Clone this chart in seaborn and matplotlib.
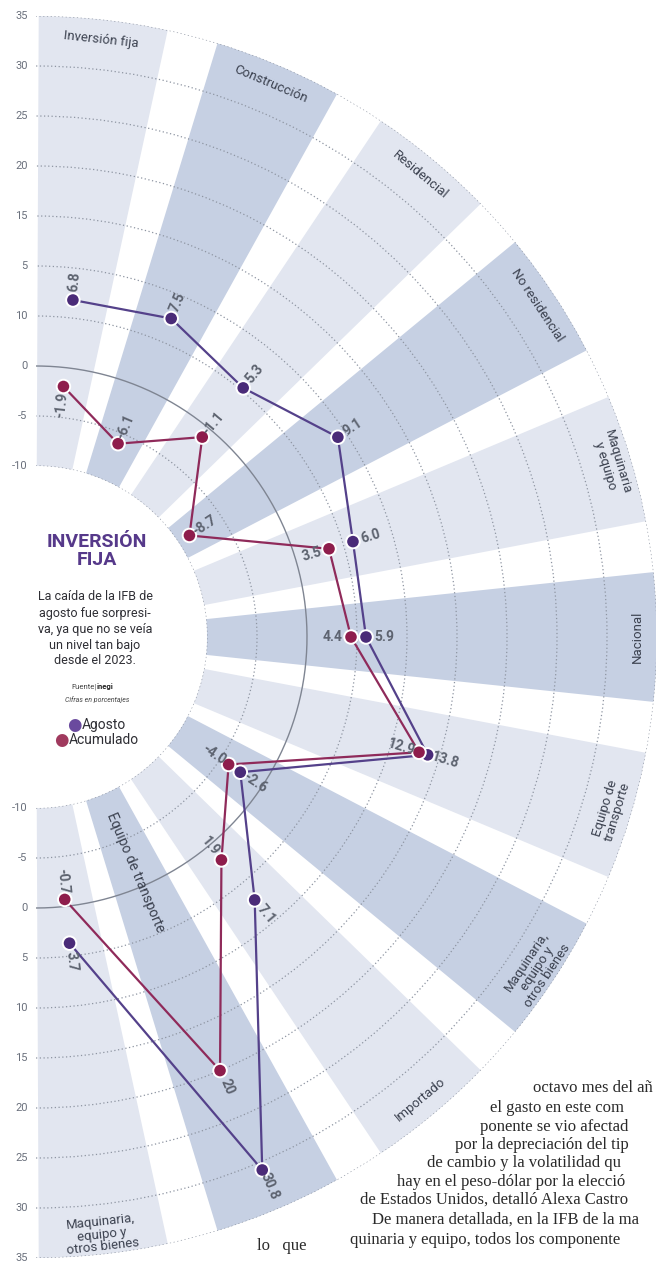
import numpy as np
import pandas as pd
import matplotlib
matplotlib.use("Agg")
import matplotlib.pyplot as plt
import seaborn as sns

# ---------------------------------------------------------------- datos
categorias = [
    "Inversión fija", "Construcción", "Residencial", "No residencial",
    "Maquinaria\ny equipo", "Nacional", "Equipo de\ntransporte",
    "Maquinaria,\nequipo y\notros bienes", "Importado",
    "Equipo de transporte", "Maquinaria,\nequipo y\notros bienes",
]
agosto = [6.8, 7.5, 5.3, 9.1, 6.0, 5.9, 13.8, -2.6, 7.1, 30.8, 3.7]
acumulado = [-1.9, -6.1, -1.1, -8.7, 3.5, 4.4, 12.9, -4.0, 1.9, 20.0, -0.7]
etiquetas_agosto = ["6.8", "7.5", "5.3", "9.1", "6.0", "5.9", "13.8",
                    "-2.6", "7.1", "30.8", "3.7"]
etiquetas_acumulado = ["-1.9", "-6.1", "-1.1", "-8.7", "3.5", "4.4", "12.9",
                       "-4.0", "1.9", "20", "-0.7"]
escala = [-10, -5, 0, 5, 10, 15, 20, 25, 30, 35]
escala_sup = ["-10", "-5", "0", "10", "5", "15", "20", "25", "30", "35"]
escala_inf = ["-10", "-5", "0", "5", "10", "15", "20", "25", "30", "35"]
nota = [
    "octavo mes del añ", "el gasto en este com", "ponente se vio afectad",
    "por la depreciación del tip", "de cambio y la volatilidad qu",
    "hay en el peso-dólar por la elecció",
    "de Estados Unidos, detalló Alexa Castro",
    "De manera detallada, en la IFB de la ma",
    "quinaria y equipo, todos los componente",
]

# ---------------------------------------------------------------- estilo
sns.set_style("white")
plt.rcParams["font.family"] = ["Roboto", "DejaVu Sans"]

C_AGO = "#4a2b78"
C_ACU = "#8e1d4c"
C_LINE_AGO = "#54418a"
C_LINE_ACU = "#8f2a5a"
C_LIGHT = "#e2e6f0"
C_DARK = "#c6d0e3"
GRIS = "#5d6370"

W, H = 656, 1265
CX, CY, R = 36, 637, 621          # centro del semicírculo y radio en px
paso, media = 16.75, 6.0          # separación angular y semiancho de banda

fig = plt.figure(figsize=(W / 100, H / 100), dpi=100)
ax = fig.add_axes([(CX - R / 2) / W, (H - CY - R) / H, 2 * R / W, 2 * R / H],
                  projection="polar")

n = len(categorias)
theta = np.deg2rad(90 - media - 0.25 - paso * np.arange(n))
colores = [C_LIGHT if i % 2 == 0 else C_DARK for i in range(n)]

ax.bar(theta, escala[-1] - escala[0], width=np.deg2rad(2 * media),
       bottom=escala[0], color=colores, edgecolor="none", zorder=1)

# ---------------------------------------------------------------- series
df = pd.DataFrame({
    "theta": np.concatenate([theta, theta]),
    "valor": agosto + acumulado,
    "serie": ["Agosto"] * n + ["Acumulado"] * n,
})
sns.lineplot(data=df, x="theta", y="valor", hue="serie", sort=False,
             estimator=None, palette={"Agosto": C_LINE_AGO, "Acumulado": C_LINE_ACU},
             lw=1.6, legend=False, ax=ax, zorder=4)
sns.scatterplot(data=df, x="theta", y="valor", hue="serie",
                palette={"Agosto": C_AGO, "Acumulado": C_ACU}, s=95,
                edgecolor="white", linewidth=1.4, legend=False, ax=ax, zorder=5)

ax.set_thetamin(-90)
ax.set_thetamax(90)
ax.set_rlim(escala[0], escala[-1])
ax.set_rorigin(-27.1)
ax.set_xticks([])
ax.set_rticks([v for v in escala if v != 0])
ax.set_yticklabels([])
ax.set_xlabel("")
ax.set_ylabel("")
ax.set_axisbelow(False)
ax.yaxis.grid(True, color="#8e95a2", linestyle=(0, (1, 2)), linewidth=0.9)
ax.xaxis.grid(False)
for s in ax.spines.values():
    s.set_color("none")
    s.set_linewidth(0)
ax.patch.set_alpha(0)
arco = np.linspace(-np.pi / 2, np.pi / 2, 300)
ax.plot(arco, np.zeros_like(arco), color="#7f8592", lw=1.0, zorder=3)

# escala a la izquierda (arriba y abajo)
for v, ts, ti in zip(escala, escala_sup, escala_inf):
    for t, lab in ((np.pi / 2, ts), (-np.pi / 2, ti)):
        ax.annotate(lab, xy=(t, v), xytext=(-6, 0), textcoords="offset points",
                    ha="right", va="center", fontsize=8, color="#6a707c",
                    annotation_clip=False)

# etiquetas de valores
lado_acu = [-1, 1, 1, 1, -1, -1, -1, -1, -1, 1, -1]
for i, t in enumerate(theta):
    rot = np.rad2deg(t)
    for v, lab, lado in ((agosto[i], etiquetas_agosto[i], 1),
                         (acumulado[i], etiquetas_acumulado[i], lado_acu[i])):
        d = 13 * lado
        ax.annotate(lab, xy=(t, v), xytext=(d * np.cos(t), d * np.sin(t)),
                    textcoords="offset points", rotation=rot, ha="center",
                    va="center", fontsize=10, fontweight="bold", color=GRIS,
                    zorder=6)

# nombres de categorías
for i, (t, lab) in enumerate(zip(theta, categorias)):
    deg = np.rad2deg(t)
    if i == 9:
        ax.text(t, -1.5, lab, rotation=deg, ha="center", va="center",
                fontsize=10, color="#3c4250", zorder=6)
        continue
    rot = deg - 90 if deg > 0 else deg + 90
    ax.text(t, 33.0, lab, rotation=rot, ha="center", va="center",
            fontsize=9.5, color="#3c4250", linespacing=0.95, zorder=6)

# ---------------------------------------------------------------- centro
def px(x, y):
    return x / W, 1 - y / H

fig.text(*px(97, 551), "INVERSIÓN\nFIJA", ha="center", va="center",
         fontsize=14, fontweight="bold", color="#56398a", linespacing=1.05)
fig.text(*px(95, 629), "La caída de la IFB de\nagosto fue sorpresi-\n"
         "va, ya que no se veía\nun nivel tan bajo\ndesde el 2023.",
         ha="center", va="center", fontsize=9, color="#2f2f35",
         linespacing=1.3)
fig.text(*px(97, 687), "Fuente|", ha="right", va="center", fontsize=5.5,
         color="#444")
fig.text(*px(97, 687), "inegi", ha="left", va="center", fontsize=5.5,
         color="#222", fontweight="bold")
fig.text(*px(97, 700), "Cifras en porcentajes", ha="center", va="center",
         fontsize=5, color="#444", style="italic")
for (x, y, c, lab) in ((74, 725, "#6a4a9e", "Agosto"),
                       (61, 740, "#a03a5e", "Acumulado")):
    fig.text(*px(x, y), "●", ha="center", va="center", fontsize=12, color=c,
             family="DejaVu Sans")
    fig.text(*px(x + 8, y), lab, ha="left", va="center", fontsize=10,
             color="#2f2f35")

# ---------------------------------------------------------------- nota
inicio = [(533, 1088), (490, 1108), (480, 1127), (455, 1145), (427, 1163),
          (397, 1182), (360, 1200), (372, 1220), (350, 1240)]
for (x, y), linea in zip(inicio, nota):
    fig.text(*px(x, y), linea, ha="left", va="center", fontsize=12,
             family="Liberation Serif", color="#2a2a2a")
fig.text(*px(257, 1246), "lo   que", ha="left", va="center", fontsize=12,
         family="Liberation Serif", color="#2a2a2a")

fig.savefig("out.png", dpi=100, facecolor="white")
